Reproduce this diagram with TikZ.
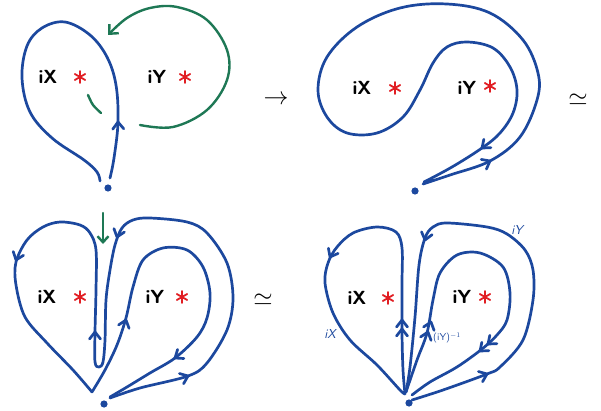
\documentclass[tikz,border=0pt]{standalone}
\usetikzlibrary{arrows.meta}
\definecolor{pblue}{RGB}{28,72,158}
\definecolor{pgreen}{RGB}{30,120,85}
\definecolor{pred}{RGB}{225,30,35}
\tikzset{
  bl/.style={draw=pblue, line width=2.7pt, line cap=round, line join=round},
  gr/.style={draw=pgreen, line width=2.4pt, line cap=round, line join=round},
  lab/.style={font=\fontsize{19}{19}\selectfont\bfseries\sffamily, text=black, inner sep=0pt},
  small/.style={font=\fontsize{13}{13}\selectfont\sffamily\itshape, text=pblue, inner sep=0pt},
  rel/.style={font=\fontsize{24}{24}\selectfont, inner sep=0pt},
  chev/.pic={\draw[bl] (-7,-5.5) -- (0,0) -- (-7,5.5);},
  star/.pic={\draw[draw=pred, line width=1.8pt, line cap=round] (0,-6)--(0,6) (-5.2,-3)--(5.2,3) (-5.2,3)--(5.2,-3);},
  bdot/.style={fill=pblue, draw=none}
}
\begin{document}
\begin{tikzpicture}[x=1pt,y=-1pt]
\useasboundingbox (0,0) rectangle (601,411);

% ---------- panel 1 ----------
\draw[bl] plot[smooth, tension=0.6] coordinates {(100,181) (97,172) (84,160) (52,138) (30,112) (22,78) (27,46) (42,28) (65,22) (90,35) (107,57) (116,85) (118,122) (114,158) (110,178)};
\pic[rotate=92] at (118,122) {chev};
\fill[bdot] (108,188) circle (3.6);
\draw[gr, -{Straight Barb[length=7pt,width=13pt]}] plot[smooth, tension=0.6] coordinates {(140,125) (173,127) (207,110) (227,80) (227,50) (207,20) (177,7) (150,8) (127,18) (108,35)};
\draw[gr] plot[smooth] coordinates {(88,95) (93,105) (101,113)};
\node[lab] (x1) at (48,77) {iX};
\pic at (80,77) {star};
\node[lab] (y1) at (157,77) {iY};
\pic at (185,77) {star};

\node[rel] (to) at (276,100) {$\rightarrow$};

% ---------- panel 2 ----------
\draw[bl] plot[smooth, tension=0.6] coordinates {(423,184) (450,175) (490,161) (520,137) (537,100) (538,73) (523,40) (490,13) (447,4) (400,8) (357,27) (327,57) (318,90) (327,117) (347,133) (377,133) (403,117) (420,90) (433,63) (447,47) (467,42) (493,48) (510,67) (517,90) (513,113) (500,133) (482,148) (452,167) (424,182)};
\pic[rotate=28] at (490,161) {chev};
\pic[rotate=-140] at (482,148) {chev};
\fill[bdot] (415,191) circle (3.6);
\node[lab] (x2) at (362,88) {iX};
\pic at (395,88) {star};
\node[lab] (y2) at (467,88) {iY};
\pic at (490,86) {star};

\node[rel] (eq1) at (578,100) {$\simeq$};

% ---------- panel 3 ----------
\draw[bl] plot[smooth, tension=0.55] coordinates {(110,398) (140,388) (188,376) (207,363) (227,330) (233,298) (227,263) (207,233) (187,222) (150,218) (133,220) (122,228) (115,245) (110,270) (106,300) (105,340) (103,362) (99,367) (95,362) (95,332) (96,290) (96,250) (90,233) (80,225) (60,222) (43,227) (27,240) (16,262) (16,285) (25,317) (47,343) (73,370) (92,392)};
\draw[bl] plot[smooth, tension=0.55] coordinates {(92,392) (105,370) (117,345) (126,318) (133,287) (143,260) (163,248) (187,250) (203,267) (210,293) (207,318) (197,337) (175,358) (150,373) (127,387) (110,397)};
\pic[rotate=22] at (188,376) {chev};
\pic[rotate=-108] at (117,237) {chev};
\pic[rotate=90] at (95,332) {chev};
\pic[rotate=-110] at (16,260) {chev};
\pic[rotate=72] at (126,320) {chev};
\pic[rotate=-145] at (175,358) {chev};
\fill[bdot] (104,404) circle (3.6);
\draw[gr, -{Straight Barb[length=6pt,width=11pt]}] (103,213) -- (103,244);
\node[lab] (x3) at (47,297) {iX};
\pic at (80,297) {star};
\node[lab] (y3) at (155,297) {iY};
\pic at (182,297) {star};

\node[rel] (eq2) at (263,300) {$\simeq$};

% ---------- panel 4 ----------
\draw[bl] plot[smooth, tension=0.55] coordinates {(405,394) (403,370) (402,333) (402,283) (402,248) (396,232) (377,227) (353,233) (337,247) (328,263) (325,283) (333,313) (350,340) (377,365) (400,390) (405,394)};
\pic[rotate=90] at (402,320) {chev};
\pic[rotate=90] at (402,329) {chev};
\pic[rotate=-118] at (330,257) {chev};
\draw[bl] plot[smooth, tension=0.55] coordinates {(412,400) (443,390) (487,374) (500,367) (523,340) (533,300) (533,270) (525,250) (507,234) (487,227) (447,223) (433,227) (425,238) (419,265) (415,317) (410,367) (406,392)};
\pic[rotate=22] at (487,374) {chev};
\pic[rotate=-105] at (425,240) {chev};
\draw[bl] plot[smooth, tension=0.55] coordinates {(406,392) (417,360) (427,333) (433,300) (440,273) (457,255) (480,253) (503,267) (510,293) (507,320) (497,335) (482,349) (457,367) (430,382) (412,395)};
\pic[rotate=72] at (431,322) {chev};
\pic[rotate=72] at (428,332) {chev};
\pic[rotate=-140] at (488,344) {chev};
\pic[rotate=-140] at (480,351) {chev};
\fill[bdot] (409,403) circle (3.6);
\node[lab] (x4) at (357,298) {iX};
\pic at (388,298) {star};
\node[lab] (y4) at (462,297) {iY};
\pic at (485,297) {star};
\node[small] (sx) at (330,334) {iX};
\node[small] (sy) at (517,230) {iY};
\node[small, font=\fontsize{10}{10}\selectfont\sffamily] (syi) at (447,338) {(iY)$^{-1}$};
\end{tikzpicture}
\end{document}
